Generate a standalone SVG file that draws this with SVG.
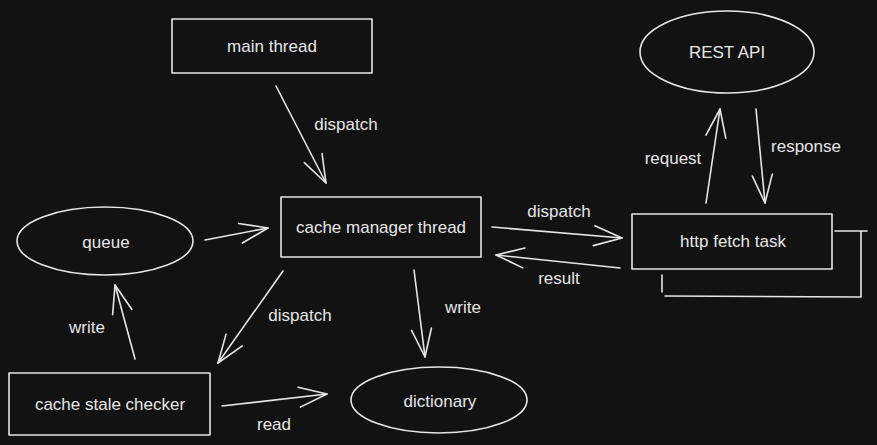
<svg xmlns="http://www.w3.org/2000/svg" width="877" height="445" viewBox="0 0 877 445">
  <defs>
    <style>
      .shape { fill: none; stroke: #e6e6e6; stroke-width: 1.6; stroke-linecap: round; stroke-linejoin: round; }
      .edge { fill: none; stroke: #e6e6e6; stroke-width: 1.6; stroke-linecap: round; marker-end: url(#head); }
      .lbl { font-family: "Liberation Sans", Arial, sans-serif; font-size: 17px; fill: #e6e6e6; text-anchor: middle; dominant-baseline: central; }
    </style>
    <marker id="head" markerUnits="userSpaceOnUse" markerWidth="40" markerHeight="30" viewBox="-30 -15 32 30" refX="0" refY="0" orient="auto" overflow="visible">
      <path d="M -28 -10 L 0 0 L -28 10" fill="none" stroke="#e6e6e6" stroke-width="1.6" stroke-linecap="round" stroke-linejoin="round"/>
    </marker>
  </defs>
  <rect width="877" height="445" fill="#121212"/>

  <g id="main-thread">
    <rect class="shape" x="172" y="19" width="200" height="54"/>
    <text class="lbl" x="272" y="46">main thread</text>
  </g>
  <g id="cache-manager-thread">
    <rect class="shape" x="281" y="197" width="200" height="60"/>
    <text class="lbl" x="381" y="227">cache manager thread</text>
  </g>
  <g id="queue">
    <ellipse class="shape" cx="105" cy="241" rx="88" ry="34"/>
    <text class="lbl" x="106" y="242">queue</text>
  </g>
  <g id="cache-stale-checker">
    <rect class="shape" x="9" y="373" width="201" height="62"/>
    <text class="lbl" x="110" y="404">cache stale checker</text>
  </g>
  <g id="dictionary">
    <ellipse class="shape" cx="439" cy="400" rx="88" ry="33"/>
    <text class="lbl" x="440" y="401">dictionary</text>
  </g>
  <g id="http-fetch-task">
    <rect class="shape" x="632" y="214" width="200" height="55"/>
    <text class="lbl" x="733" y="241">http fetch task</text>
  </g>
  <g id="rest-api">
    <ellipse class="shape" cx="727" cy="52" rx="87" ry="41"/>
    <text class="lbl" x="727" y="52">REST API</text>
  </g>

  <g id="connectors">
    <path class="edge" d="M 276 86 L 326 183"/>
    <path class="edge" d="M 205 240 L 268 228"/>
    <path class="edge" d="M 135 359 L 115 285"/>
    <path class="edge" d="M 283 271 L 218 363"/>
    <path class="edge" d="M 414 270 L 425 357"/>
    <path class="edge" d="M 222 406 L 327 394"/>
    <path class="edge" d="M 492 227 L 622 238"/>
    <path class="edge" d="M 620 268 L 496 255"/>
    <path class="edge" d="M 706 203 L 720 109"/>
    <path class="edge" d="M 756 109 L 765 203"/>
    <path class="shape" d="M 835 231 L 867 231 M 861 231 L 861 297 L 665 296 M 662 275 L 662 292"/>

    <text class="lbl" x="346" y="124">dispatch</text>
    <text class="lbl" x="87" y="327">write</text>
    <text class="lbl" x="300" y="315">dispatch</text>
    <text class="lbl" x="463" y="307">write</text>
    <text class="lbl" x="274" y="424">read</text>
    <text class="lbl" x="559" y="211">dispatch</text>
    <text class="lbl" x="559" y="278">result</text>
    <text class="lbl" x="673" y="158">request</text>
    <text class="lbl" x="806" y="146">response</text>
  </g>
</svg>
